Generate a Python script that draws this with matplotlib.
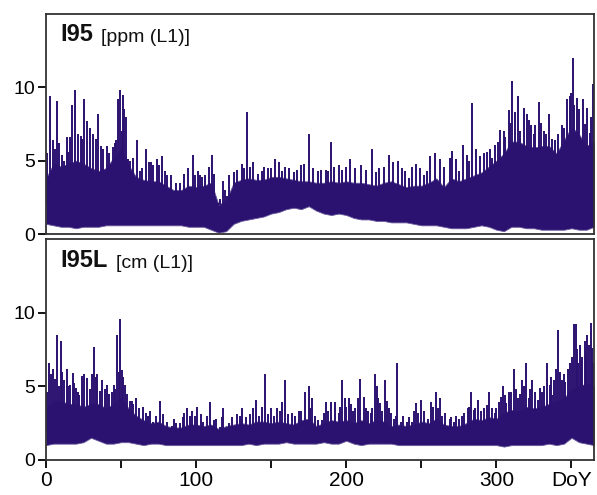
import numpy as np
import matplotlib
matplotlib.use('Agg')
import matplotlib.pyplot as plt

plt.rcParams['font.family'] = ['Liberation Sans', 'DejaVu Sans']

# body of the dense series, read every 5 days (upper / lower edge)
body_day = list(range(0, 366, 5))

i95_hi = [3.8, 4.8, 4.6, 4.8, 5.0, 4.8, 4.5, 4.3, 4.5, 5.2, 5.8, 4.7, 3.9, 3.7, 3.6,
          3.6, 3.3, 3.0, 3.0, 3.3, 3.2, 3.3, 3.5, 2.0, 2.3, 3.5, 3.7, 3.8, 3.7, 3.7,
          3.9, 3.9, 3.8, 3.7, 3.6, 3.6, 3.5, 3.5, 3.6, 3.5, 3.6, 3.5, 3.5, 3.4, 3.3,
          3.5, 3.6, 3.4, 3.2, 3.3, 3.3, 3.5, 3.8, 3.2, 3.8, 3.6, 3.8, 4.0, 4.2, 4.6,
          5.0, 5.5, 6.3, 6.3, 6.0, 5.9, 6.0, 6.0, 5.5, 6.4, 7.3, 6.8, 6.0, 6.3]
i95_lo = [0.7, 0.6, 0.5, 0.5, 0.4, 0.5, 0.5, 0.5, 0.6, 0.6, 0.6, 0.6, 0.6, 0.6, 0.6,
          0.6, 0.6, 0.6, 0.6, 0.5, 0.5, 0.5, 0.3, 0.1, 0.2, 0.7, 0.9, 1.0, 1.1, 1.2,
          1.4, 1.5, 1.7, 1.8, 1.7, 1.9, 1.6, 1.4, 1.3, 1.4, 1.3, 1.1, 1.0, 1.0, 0.9,
          0.9, 0.8, 0.8, 0.8, 0.7, 0.6, 0.6, 0.6, 0.5, 0.4, 0.4, 0.4, 0.5, 0.6, 0.5,
          0.3, 0.2, 0.5, 0.5, 0.4, 0.4, 0.3, 0.3, 0.3, 0.3, 0.4, 0.3, 0.3, 0.5]

i95l_hi = [3.5, 4.0, 4.0, 3.8, 3.8, 3.6, 3.8, 3.8, 3.5, 3.8, 4.2, 3.5, 3.0, 2.7, 2.5,
           2.6, 2.3, 2.2, 2.2, 2.4, 2.4, 2.3, 2.4, 2.1, 2.3, 2.4, 2.5, 2.4, 2.6, 2.6,
           2.5, 2.6, 2.5, 2.4, 2.7, 2.8, 2.3, 2.5, 2.7, 2.6, 2.7, 2.5, 2.7, 2.5, 2.7,
           2.6, 2.3, 2.4, 2.3, 2.4, 2.6, 2.5, 2.8, 2.4, 2.3, 2.3, 2.5, 2.8, 2.7, 2.9,
           2.8, 3.2, 3.4, 3.3, 3.6, 3.5, 3.6, 3.8, 4.0, 4.2, 4.8, 5.0, 5.2, 5.0]
i95l_lo = [1.0, 1.1, 1.1, 1.1, 1.1, 1.2, 1.5, 1.3, 1.1, 1.1, 1.2, 1.2, 1.1, 1.0, 1.1,
           1.1, 1.0, 1.0, 1.0, 1.0, 1.0, 1.0, 1.0, 1.0, 1.0, 1.0, 1.0, 1.1, 1.0, 1.1,
           1.1, 1.1, 1.2, 1.1, 1.1, 1.1, 1.1, 1.2, 1.1, 1.1, 1.3, 1.1, 1.0, 1.1, 1.1,
           1.1, 1.1, 1.0, 1.0, 1.0, 1.0, 1.0, 1.0, 1.0, 1.0, 1.0, 1.0, 1.0, 1.0, 1.0,
           1.0, 0.9, 1.0, 1.0, 1.0, 1.0, 1.0, 1.1, 1.0, 1.1, 1.5, 1.2, 1.1, 1.0]

# tall peaks sticking out of the body
i95_spike_day = [2.7, 4.4, 7.6, 10.7, 13.8, 16, 17.6, 19.6, 21.6, 25.3,
                 27.1, 29.3, 31.1, 34.7, 36.4, 40.4, 44.4, 46.7, 48, 49.6,
                 52, 54.9, 60.4, 62.7, 66.7, 68.7, 71.6, 73.8, 77.6, 80.9,
                 86.7, 89.3, 94.4, 97.8, 102.7, 106, 108.9, 110.9, 114.4, 117.8,
                 120.4, 125, 130.4, 133.6, 138, 143.8, 147.8, 152.7, 155.3, 159.3,
                 167.1, 172, 174.9, 183.3, 186.4, 190, 194.9, 202.7, 210, 217.1,
                 222, 228.7, 234.2, 239.3, 246.7, 251.6, 256, 259.3, 262.7, 268.9,
                 270.7, 275, 277.8, 280.4, 283.5, 286.2, 292, 296, 299.3, 302.2,
                 304.9, 308.4, 310.4, 312.7, 314.4, 318.2, 320.4, 323.1, 326, 328.2,
                 331.6, 334.9, 339.3, 343.8, 346.7, 348.9, 351.1, 353.8, 357.6, 360.4,
                 362, 364]
i95_spike_val = [9.4, 6.4, 9.1, 5.4, 6.6, 6.6, 8.8, 9.8, 6.8, 9.2,
                 7.7, 7.2, 6.8, 8.2, 6.0, 6.0, 5.9, 6.4, 9.2, 9.8,
                 8.5, 5.1, 6.4, 4.3, 5.8, 4.9, 4.7, 5.1, 5.3, 4.0,
                 3.5, 3.5, 4.5, 5.4, 4.0, 4.0, 4.6, 5.4, 2.1, 3.6,
                 2.6, 4.2, 4.8, 8.3, 4.9, 4.3, 4.5, 5.1, 4.9, 4.6,
                 4.4, 4.8, 6.8, 4.4, 4.4, 6.25, 4.7, 5.1, 4.7, 5.8,
                 4.5, 5.4, 5.0, 4.3, 4.8, 4.0, 5.3, 5.5, 5.1, 5.2,
                 5.65, 4.3, 6.1, 5.4, 8.9, 5.8, 5.5, 5.8, 6.1, 7.1,
                 7.0, 8.45, 10.4, 8.3, 9.4, 8.6, 8.2, 7.4, 7.4, 9.0,
                 7.0, 8.2, 6.4, 7.4, 9.2, 9.4, 12.0, 9.3, 9.2, 8.6,
                 6.9, 10.2]

# smaller peaks along the top of the body
i95_minor_day = [1, 6, 9, 12, 15, 23, 24, 33, 38, 42, 46, 50.5, 51, 53, 56, 58,
                 64, 70, 75, 79, 83, 92, 99, 101, 104, 112, 116, 119,
                 122, 127, 132, 136, 141, 145, 150, 157, 162, 165, 170, 178, 181,
                 188, 192, 197, 200, 206, 213, 220, 225, 231, 237, 242, 244,
                 249, 254, 265, 273, 282, 289, 294, 297,
                 301, 306, 309, 316, 322, 325, 330, 333, 337, 341, 345, 350, 352,
                 355, 359, 363]
i95_minor_val = [5.5, 5.8, 6.2, 5.0, 5.6, 6.7, 6.5, 6.5, 5.8, 5.5, 6.2, 7.0, 9.5, 8.0, 5.0, 5.2,
                 4.5, 4.9, 4.7, 4.3, 4.0, 4.1, 4.0, 4.3, 3.9, 4.1, 2.4, 3.0,
                 4.0, 4.4, 4.5, 4.6, 4.1, 4.6, 4.5, 4.3, 4.5, 4.2, 4.7, 4.5, 4.3,
                 4.3, 4.6, 4.4, 4.6, 4.5, 4.4, 4.2, 4.6, 4.9, 4.5, 3.8, 4.6,
                 4.5, 4.3, 4.6, 5.1, 5.0, 5.3, 5.6, 5.2,
                 6.3, 6.6, 7.6, 7.0, 7.8, 6.8, 7.6, 6.8, 6.5, 6.8, 7.2, 9.6, 8.8,
                 8.5, 7.5, 8.0]

i95l_spike_day = [2.2, 4.9, 7.6, 10, 12, 13.8, 16, 17.8, 20, 22.2,
                  25.3, 27.1, 30.4, 32, 34.2, 37.1, 40.9, 43.8, 45.3, 47.6,
                  49.3, 50.9, 52.9, 54.2, 57.1, 60, 64.4, 66.7, 69.3, 71.6,
                  76, 80.9, 83.8, 86.7, 89.3, 92.2, 94.2, 97.1, 100.9, 104.9,
                  109.3, 111.6, 115.6, 118.2, 121.6, 127.1, 130.4, 138.2, 140, 143.8,
                  146, 150, 154.2, 157.1, 159, 161.1, 163.8, 168.7, 172.2, 174.9,
                  177.5, 181.1, 183.8, 186.4, 190, 192.2, 194.9, 197.1, 198.9, 201.6,
                  204.2, 207.8, 209.1, 211.6, 214.2, 216.7, 218.9, 220.7, 222.7, 226,
                  228.2, 231.6, 234, 236.7, 240.4, 243.8, 246.4, 250, 254.2, 256.7,
                  259.6, 262.2, 266, 268.9, 271.6, 274.9, 278.7, 280.9, 283.3, 285.3,
                  287.6, 292, 295.3, 298.9, 301.6, 304.4, 306.7, 308.7, 311.6, 314.2,
                  317.1, 319.8, 321.8, 323.8, 327.6, 330.4, 333.8, 335.6, 337.1, 339.8,
                  341.3, 343.8, 346, 349.3, 351.6, 352.7, 354.2, 355.6, 357.1, 358.7,
                  360.4, 362.7, 364.4]
i95l_spike_val = [6.6, 6.2, 8.5, 8.1, 5.4, 6.2, 5.1, 5.9, 4.9, 4.4,
                  5.8, 5.55, 5.8, 7.7, 5.8, 5.4, 5.1, 4.6, 5.1, 8.5,
                  9.6, 6.1, 5.1, 4.5, 4.0, 4.2, 3.6, 3.2, 3.3, 2.6,
                  4.0, 2.6, 2.3, 2.5, 2.5, 3.2, 3.5, 3.3, 3.6, 2.6,
                  3.9, 2.7, 2.2, 3.5, 2.5, 3.1, 3.5, 3.5, 4.1, 3.6,
                  5.8, 3.5, 3.5, 3.96, 5.4, 3.1, 3.2, 3.3, 4.6, 4.99,
                  4.2, 2.7, 2.7, 3.9, 3.96, 3.96, 3.2, 5.4, 4.2, 4.2,
                  3.3, 4.2, 5.5, 4.3, 3.3, 3.2, 5.8, 5.0, 3.85, 5.4,
                  3.5, 2.8, 6.6, 2.6, 2.6, 2.6, 3.85, 4.1, 2.8, 3.9,
                  4.6, 4.2, 3.2, 2.8, 2.6, 2.8, 3.2, 3.5, 4.6, 3.4,
                  4.1, 3.5, 4.6, 3.2, 3.96, 5.05, 3.85, 4.6, 6.2, 4.2,
                  5.4, 6.6, 4.2, 5.4, 4.1, 4.6, 6.6, 5.1, 4.4, 6.2,
                  8.8, 5.4, 5.3, 6.6, 9.2, 9.2, 6.6, 7.8, 7.0, 8.05,
                  8.5, 9.3, 6.6]

i95l_minor_day = [1, 3.5, 6, 9, 11, 15, 19, 21, 24, 29, 33, 36, 39, 42, 46, 48.5, 51.5, 56, 58,
                  62, 68, 73, 78, 85, 91, 96, 99, 103, 107, 113, 117, 124, 129, 133, 136,
                  142, 148, 152, 156, 166, 170, 176, 179, 185, 188, 196, 200, 203, 206,
                  213, 217, 221, 224, 227, 230, 233, 238, 242, 245, 248, 252, 258, 261,
                  264, 270, 273, 277, 282, 286, 290, 294, 297, 300,
                  303, 305.5, 310, 313, 316, 318.5, 322.5, 326, 329, 332, 336.5, 338.5,
                  342.5, 345, 348, 350.5, 353.5, 356.5, 359.5, 361.5, 363.5]
i95l_minor_val = [4.6, 5.8, 5.5, 5.0, 6.0, 5.0, 5.2, 4.6, 5.7, 4.8, 5.6, 4.7, 4.8, 4.5, 4.8, 6.0, 5.6, 4.0, 3.8,
                  3.5, 3.0, 3.0, 3.1, 2.8, 2.9, 3.0, 3.0, 3.1, 3.0, 2.8, 2.9, 2.9, 3.0, 2.9, 3.1,
                  3.0, 3.1, 3.0, 3.3, 3.0, 3.3, 3.5, 3.0, 3.2, 3.3, 3.6, 3.6, 3.8, 3.5,
                  3.5, 3.5, 4.2, 3.3, 4.0, 3.2, 3.0, 3.0, 2.9, 3.3, 3.2, 3.3, 3.6, 3.5,
                  3.0, 2.9, 3.0, 3.0, 3.6, 3.5, 3.3, 3.7, 3.5, 3.5,
                  4.3, 4.4, 4.6, 4.8, 4.5, 5.0, 4.8, 4.6, 4.9, 5.0, 5.6, 5.4,
                  6.0, 5.8, 6.2, 7.0, 7.5, 6.8, 7.2, 7.8, 7.6]

xticks = [0, 50, 100, 150, 200, 250, 300, 350]
xticklabels = ['0', '', '100', '', '200', '', '300', 'DoY']

col = '#2b1170'
fig = plt.figure(figsize=(5.97, 4.95), dpi=100)
ax1 = fig.add_axes([0.077, 0.527, 0.918, 0.445])
ax2 = fig.add_axes([0.077, 0.071, 0.918, 0.446])

# spike foot sits inside the body so it never pokes out below
panels = [(ax1, i95_hi, i95_lo, i95_spike_day, i95_spike_val, i95_minor_day, i95_minor_val,
           2.0, 'I95', '[ppm (L1)]'),
          (ax2, i95l_hi, i95l_lo, i95l_spike_day, i95l_spike_val, i95l_minor_day, i95l_minor_val,
           1.8, 'I95L', '[cm (L1)]')]

for ax, hi, lo, sd, sv, md, mv, foot, name, unit in panels:
    ax.fill_between(body_day, lo, hi, color=col, lw=0.6, edgecolor='#6a5a9c')
    ax.vlines(md, foot, mv, color=col, lw=1.4)
    ax.vlines(sd, foot, sv, color=col, lw=1.4)
    ax.set_xlim(0, 365)
    ax.set_ylim(0, 15)
    ax.set_yticks([0, 5, 10])
    ax.tick_params(axis='y', labelsize=14, length=6, width=1.3, direction='out', pad=2)
    for s in ax.spines.values():
        s.set_linewidth(1.3)
        s.set_color('#333333')
    t = ax.text(0.026, 0.875, name, transform=ax.transAxes, fontsize=17,
                fontweight='bold', va='baseline', ha='left', color='#111111')
    ax.annotate(unit, xy=(1, 0), xycoords=t, xytext=(6, 0), textcoords='offset points',
                fontsize=14, va='bottom', ha='left', color='#111111')

ax1.set_xticks([])
ax2.set_xticks(xticks)
ax2.set_xticklabels(xticklabels)
ax2.tick_params(axis='x', labelsize=15, length=6, width=1.3, direction='out', pad=2)

plt.savefig('out.png', dpi=100)
